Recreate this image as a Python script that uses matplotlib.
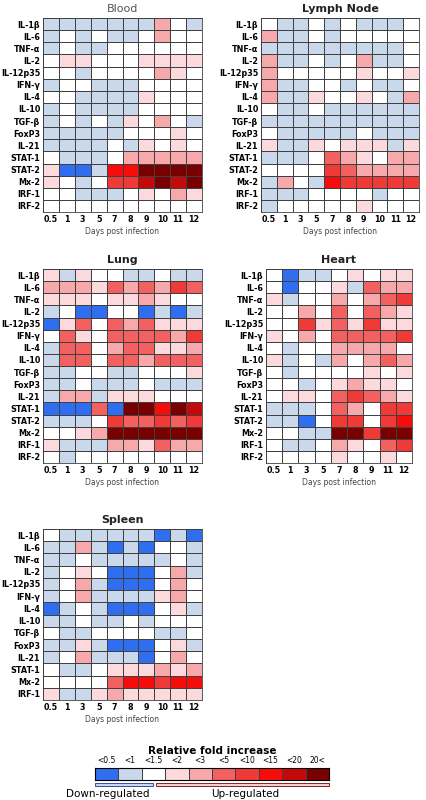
import numpy as np
import matplotlib.pyplot as plt
from matplotlib.colors import ListedColormap, BoundaryNorm

# category codes: 0 <0.5, 1 <1, 2 <1.5, 3 <2, 4 <3, 5 <5, 6 <10, 7 <15, 8 <20, 9 20<
level_labels = ['<0.5', '<1', '<1.5', '<2', '<3', '<5', '<10', '<15', '<20', '20<']
level_colors = ['#2f6fef', '#c9d8ea', '#ffffff', '#fbd9dc', '#f7a8aa',
                '#f26060', '#f03a38', '#f40d0a', '#c40a08', '#780000']

genes16 = ['IL-1β', 'IL-6', 'TNF-α', 'IL-2', 'IL-12p35', 'IFN-γ', 'IL-4', 'IL-10',
           'TGF-β', 'FoxP3', 'IL-21', 'STAT-1', 'STAT-2', 'Mx-2', 'IRF-1', 'IRF-2']
genes_spleen = ['IL-1β', 'IL-6', 'TNF-α', 'IL-2', 'IL-12p35', 'IFN-γ', 'IL-4', 'IL-10',
                'TGF-β', 'FoxP3', 'IL-21', 'STAT-1', 'Mx-2', 'IRF-1']
days = ['0.5', '1', '3', '5', '7', '8', '9', '10', '11', '12']
days_heart = ['0.5', '1', '3', '5', '7', '8', '9', '11', '12']

blood = [
    [1,1,1,1,1,1,1,4,2,1],
    [1,2,1,2,1,1,2,4,2,2],
    [1,2,1,1,2,2,2,2,2,2],
    [2,3,3,2,2,2,3,3,3,3],
    [2,2,1,2,2,2,2,4,3,2],
    [1,2,2,1,1,1,2,2,2,2],
    [2,2,1,1,1,1,3,2,2,2],
    [1,2,1,1,1,1,2,2,2,2],
    [1,2,1,2,1,3,2,4,2,1],
    [1,1,1,1,1,2,2,2,3,2],
    [1,1,1,1,2,1,3,2,3,2],
    [2,1,1,1,2,4,4,4,4,4],
    [3,0,0,1,7,7,9,9,9,9],
    [3,2,1,2,6,6,8,9,8,9],
    [2,2,1,1,1,2,3,2,4,3],
    [2,2,2,2,2,2,2,2,2,2],
]
lymph = [
    [2,1,1,2,1,2,1,1,1,2],
    [4,1,1,2,1,2,2,2,2,2],
    [1,1,1,1,1,1,1,1,1,2],
    [4,1,1,2,1,2,4,1,1,2],
    [4,2,2,2,2,2,3,2,2,3],
    [4,1,1,2,2,1,2,1,1,2],
    [4,1,1,3,2,2,3,2,1,4],
    [2,1,1,2,1,1,1,1,1,1],
    [1,1,1,1,1,1,1,1,1,1],
    [2,1,1,1,1,1,2,1,1,1],
    [3,1,1,3,2,3,3,3,1,3],
    [1,1,1,2,5,4,3,2,4,4],
    [2,2,2,2,6,5,4,4,4,4],
    [1,4,2,1,7,6,6,6,6,6],
    [1,1,1,2,2,2,2,1,2,2],
    [1,2,2,2,2,2,3,2,2,2],
]
lung = [
    [3,1,3,2,2,1,1,2,1,1],
    [4,4,4,3,5,4,5,4,6,5],
    [3,3,3,2,3,3,4,3,2,2],
    [1,2,0,0,2,2,0,1,0,1],
    [0,3,5,2,5,4,5,3,3,3],
    [2,5,3,2,5,5,5,5,4,6],
    [1,5,5,2,4,5,5,3,3,4],
    [1,5,5,2,5,5,4,5,5,5],
    [1,1,2,2,1,1,2,2,2,3],
    [1,1,2,1,1,1,2,1,1,1],
    [1,4,4,1,3,3,3,2,2,2],
    [0,0,0,5,0,9,9,7,9,8],
    [1,1,1,2,6,5,5,6,5,6],
    [2,2,3,4,9,9,9,9,9,9],
    [3,1,1,1,4,4,3,5,4,4],
    [2,1,2,2,2,2,2,2,2,2],
]
heart = [
    [2,0,1,1,2,3,2,3,3],
    [2,0,2,2,3,1,5,4,4],
    [3,1,2,2,4,2,4,5,6],
    [2,2,4,2,5,2,5,4,3],
    [2,2,6,3,5,3,6,3,3],
    [3,2,4,2,5,5,5,5,6],
    [2,1,2,2,4,4,4,4,2],
    [3,1,2,1,4,2,4,5,4],
    [2,1,2,2,2,2,3,2,3],
    [2,2,1,2,3,4,3,3,2],
    [2,3,3,2,5,6,5,4,3],
    [1,1,1,2,5,4,2,6,6],
    [1,1,0,2,6,6,2,6,7],
    [2,2,1,1,9,9,6,9,9],
    [2,1,1,2,4,3,2,5,6],
    [2,2,2,2,3,2,2,3,2],
]
spleen = [
    [2,1,1,1,1,1,1,0,1,0],
    [1,1,4,1,0,1,0,2,2,1],
    [1,1,2,1,1,1,1,1,2,1],
    [1,2,3,2,0,0,0,2,4,1],
    [1,2,4,1,0,0,0,2,4,2],
    [1,2,4,1,1,1,1,3,4,2],
    [0,1,2,1,0,0,0,2,3,1],
    [1,1,2,1,1,2,1,2,2,2],
    [2,1,1,2,2,2,2,1,1,2],
    [1,1,3,1,0,0,0,2,3,1],
    [1,2,4,1,1,1,0,2,4,2],
    [2,1,1,2,3,3,3,4,3,4],
    [2,2,2,2,5,7,7,6,7,7],
    [3,1,1,3,4,3,3,3,3,3],
]

W, H = 427, 800
cmap = ListedColormap(level_colors)
norm = BoundaryNorm(np.arange(-0.5, 10.5, 1), cmap.N)

fig = plt.figure(figsize=(W / 100, H / 100), dpi=100)
fig.patch.set_facecolor('white')


def px_axes(x0, y0, x1, y1):
    return fig.add_axes([x0 / W, 1 - y1 / H, (x1 - x0) / W, (y1 - y0) / H])


def panel(data, genes, cols, title, box, title_color='#222222', weight='semibold'):
    ax = px_axes(*box)
    arr = np.array(data)
    ax.pcolormesh(arr, cmap=cmap, norm=norm, edgecolors='#404040', linewidth=0.55)
    ax.set_xlim(0, arr.shape[1])
    ax.set_ylim(arr.shape[0], 0)
    ax.set_yticks(np.arange(arr.shape[0]) + 0.5)
    ax.set_yticklabels(genes, fontsize=5.8, fontweight='semibold')
    ax.set_xticks(np.arange(arr.shape[1]) + 0.5)
    ax.set_xticklabels(cols, fontsize=5.8, fontweight='semibold')
    ax.tick_params(length=0, pad=2)
    for s in ax.spines.values():
        s.set_color('#404040')
        s.set_linewidth(0.6)
    ax.set_xlabel('Days post infection', fontsize=5.5, color='#444444', labelpad=2)
    ax.set_title(title, fontsize=8, color=title_color, pad=4, fontweight=weight)


panel(blood, genes16, days, 'Blood', (43, 18, 202, 212), '#555555', 'normal')
panel(lymph, genes16, days, 'Lymph Node', (261, 18, 419, 212))
panel(lung, genes16, days, 'Lung', (43, 269, 202, 463))
panel(heart, genes16, days_heart, 'Heart', (266, 269, 412, 463))
panel(spleen, genes_spleen, days, 'Spleen', (43, 529, 202, 700))

# legend bar
lax = px_axes(95, 768, 329, 780)
lax.pcolormesh(np.arange(10)[None, :], cmap=cmap, norm=norm, edgecolors='#404040', linewidth=0.55)
lax.set_xlim(0, 10)
lax.set_xticks(np.arange(10) + 0.5)
lax.set_xticklabels(level_labels, fontsize=5.5)
lax.xaxis.set_ticks_position('top')
lax.tick_params(length=0, pad=2)
lax.set_yticks([])
lax.set_title('Relative fold increase', fontsize=7.5, pad=10, fontweight='semibold')

fig.text(108 / W, 1 - 794 / H, 'Down-regulated', fontsize=7.5, ha='center', va='center')
fig.text(245 / W, 1 - 794 / H, 'Up-regulated', fontsize=7.5, ha='center', va='center')
fig.patches.append(plt.Rectangle((95 / W, 1 - 786 / H), 58 / W, 3 / H, transform=fig.transFigure,
                                 facecolor='#c9d8ea', edgecolor='#2030a0', lw=0.6))
fig.patches.append(plt.Rectangle((156 / W, 1 - 786 / H), 173 / W, 3 / H, transform=fig.transFigure,
                                 facecolor='#f0d0d0', edgecolor='#7a0000', lw=0.6))

fig.savefig('out.png', dpi=100)
